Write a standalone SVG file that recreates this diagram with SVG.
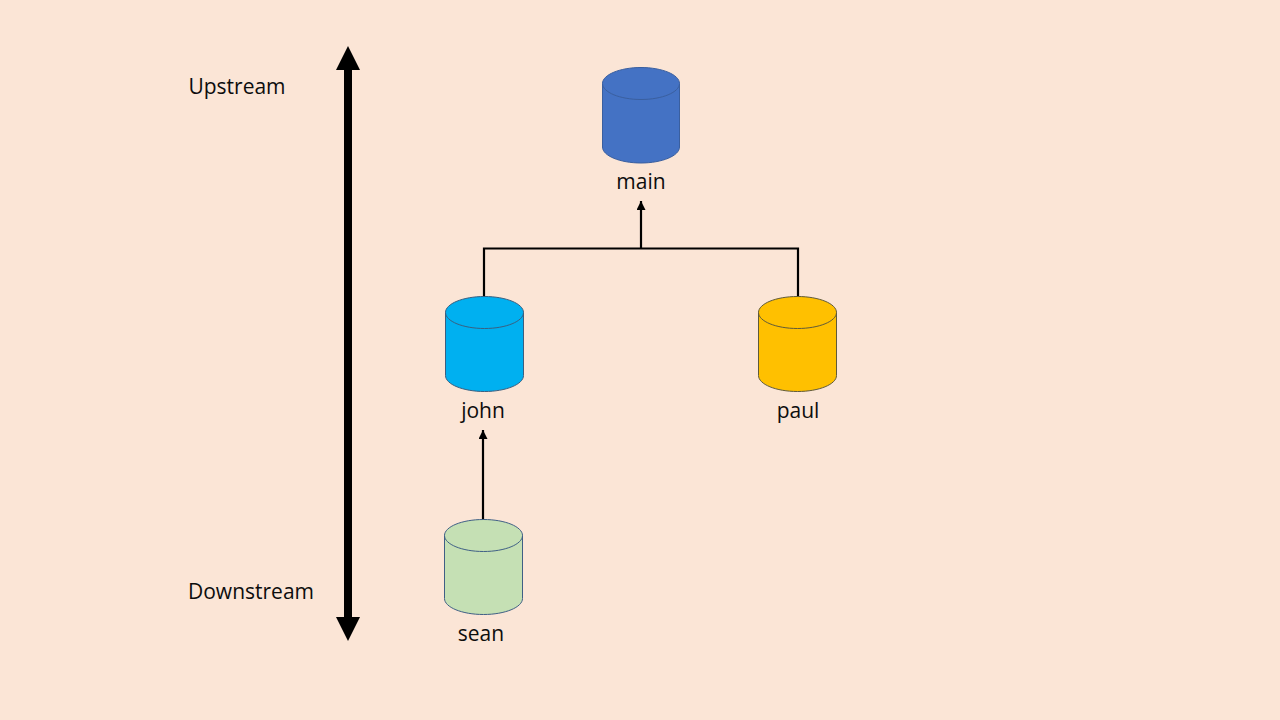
<svg xmlns="http://www.w3.org/2000/svg" width="1280" height="720" viewBox="0 0 1280 720">
<style>
.t{font-family:"Open Sans","Noto Sans","Liberation Sans",sans-serif;font-size:21px;fill:#0d0d0d;text-anchor:middle}
.s{stroke-width:1}
.l{fill:none;stroke:#000;stroke-width:2.2}
</style>
<defs>
<marker id="a" markerUnits="userSpaceOnUse" markerWidth="9" markerHeight="9" refX="9" refY="4.500" orient="auto"><path d="M0 0L9 4.500L0 9Z" fill="#000"/></marker>
</defs>
<rect width="1280" height="720" fill="#fbe5d6"/>
<g id="connectors">
<path class="l" d="M641 248V201" marker-end="url(#a)"/>
<path class="l" d="M484 297V248.500H798V297"/>
<path class="l" d="M483 520V430" marker-end="url(#a)"/>
<path d="M344 70H352V617H344Z" fill="#000"/>
<path d="M348 46L360 70H336Z" fill="#000"/>
<path d="M348 641L360 617H336Z" fill="#000"/>
</g>
<g id="main">
<path class="s" d="M602.500 83.500V147C602.500 155.800 620 163 641 163S679.500 155.800 679.500 147V83.500C679.500 74.700 662 67.500 641 67.500S602.500 74.700 602.500 83.500C602.500 92.300 620 99.500 641 99.500S679.500 92.300 679.500 83.500" fill="#4472c4" stroke="#3a5f9f"/>
<text class="t" x="641" y="189">main</text>
</g>
<g id="john">
<path class="s" d="M445.500 312.500V375.500C445.500 384.300 463 391.500 484.500 391.500S523.500 384.300 523.500 375.500V312.500C523.500 303.700 506 296.500 484.500 296.500S445.500 303.700 445.500 312.500C445.500 321.300 463 328.500 484.500 328.500S523.500 321.300 523.500 312.500" fill="#00b0f0" stroke="#3a5f80"/>
<text class="t" x="483" y="418">john</text>
</g>
<g id="paul">
<path class="s" d="M758.500 312.500V375.500C758.500 384.300 776 391.500 797.500 391.500S836.500 384.300 836.500 375.500V312.500C836.500 303.700 819 296.500 797.500 296.500S758.500 303.700 758.500 312.500C758.500 321.300 776 328.500 797.500 328.500S836.500 321.300 836.500 312.500" fill="#ffc000" stroke="#5f5a3a"/>
<text class="t" x="798" y="418">paul</text>
</g>
<g id="sean">
<path class="s" d="M444.500 535.500V598.500C444.500 607.300 462 614.500 483.500 614.500S522.500 607.300 522.500 598.500V535.500C522.500 526.700 505 519.500 483.500 519.500S444.500 526.700 444.500 535.500C444.500 544.300 462 551.500 483.500 551.500S522.500 544.300 522.500 535.500" fill="#c5e0b4" stroke="#3f5f85"/>
<text class="t" x="481" y="641">sean</text>
</g>
<g id="labels">
<text class="t" x="237" y="94">Upstream</text>
<text class="t" x="251" y="599">Downstream</text>
</g>
</svg>
